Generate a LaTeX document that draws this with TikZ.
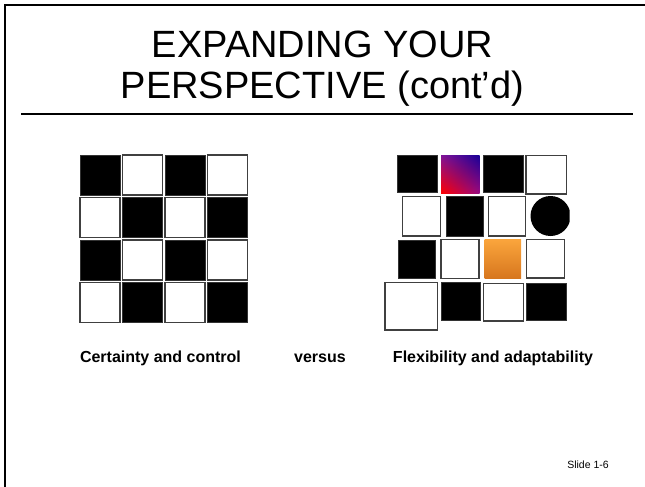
\documentclass[tikz,border=0pt]{standalone}
\usepackage{fontspec}
\setmainfont{Liberation Sans}
\usetikzlibrary{shadings}
\definecolor{gradtr}{RGB}{25,0,150}
\definecolor{gradtl}{RGB}{130,20,150}
\definecolor{gradbr}{RGB}{150,10,130}
\definecolor{orangetop}{RGB}{250,165,60}
\definecolor{orangebot}{RGB}{215,118,30}
\begin{document}
\begin{tikzpicture}[x=1pt,y=-1pt,
  wsq/.style={draw=black!75,line width=1.4pt,fill=white},
  bsq/.style={draw=black!80,line width=0.8pt,fill=black},
  frameline/.style={line width=2pt,draw=black},
  lbl/.style={font=\fontsize{16}{19}\selectfont\bfseries,anchor=base,inner sep=0pt},
  ttl/.style={font=\fontsize{38}{46}\selectfont,anchor=base,inner sep=0pt}]
\useasboundingbox (0,0) rectangle (645,487);
% frame
\coordinate (fbl) at (5,487);
\coordinate (ftl) at (5,5.5);
\coordinate (ftr) at (645,5.5);
\draw[frameline] (fbl) -- (ftl) -- (ftr);
% title
\node[ttl] (t1) at (322.5,58) {EXPANDING YOUR};
\node[ttl] (t2) at (322.5,98) {PERSPECTIVE (cont'd)};
\coordinate (ul) at (21,113.5);
\coordinate (ur) at (633,113.5);
\draw[line width=2pt] (ul) -- (ur);
% left grid
\foreach \r in {0,1,2,3}{
  \foreach \c in {0,1,2,3}{
    \pgfmathtruncatemacro{\odd}{mod(\r+\c,2)}
    \ifnum\odd=0
      \draw[bsq] (80+42.5*\c,155+42.5*\r) rectangle ++(40,40);
    \else
      \draw[wsq] (80+42.5*\c,155+42.5*\r) rectangle ++(40,40);
    \fi
  }
}
% right grid
% row 1
\draw[bsq] (397,155) rectangle (437,192.5);
\shade[lower left=red, upper right=gradtr, upper left=gradtl, lower right=gradbr]
  (441,155.5) rectangle (479.5,193);
\draw[bsq] (483.5,155) rectangle (523,192.5);
\draw[wsq] (526,155.5) rectangle (566.5,194);
% row 2
\draw[wsq] (402.5,196.5) rectangle (440.5,236);
\draw[bsq] (446,196) rectangle (483.5,236.5);
\draw[wsq] (488.5,196.5) rectangle (525.5,236);
\begin{scope}
  \clip (525,190) rectangle (569.5,240);
  \fill[black] (550.5,216) circle[radius=20];
\end{scope}
% row 3
\draw[bsq] (398.5,240) rectangle (435.5,278.5);
\draw[wsq] (441,239.5) rectangle (479,278.5);
\shade[top color=orangetop, bottom color=orangebot]
  (484.5,239.5) rectangle (521,278.5);
\draw[wsq] (526.5,239.5) rectangle (564.5,278);
% row 4
\draw[wsq] (385,282.5) rectangle (437.5,330);
\draw[bsq] (441,282.5) rectangle (480,320);
\draw[wsq] (483.5,283.5) rectangle (523.5,321);
\draw[bsq] (526,283.5) rectangle (566.5,320);
% labels
\node[lbl] (l1) at (160.5,362) {Certainty and control};
\node[lbl] (l2) at (320,362) {versus};
\node[lbl] (l3) at (493,362) {Flexibility and adaptability};
\node[font=\fontsize{10.5}{12}\selectfont,anchor=base,inner sep=0pt] (sl) at (588,468) {Slide 1-6};
\end{tikzpicture}
\end{document}
